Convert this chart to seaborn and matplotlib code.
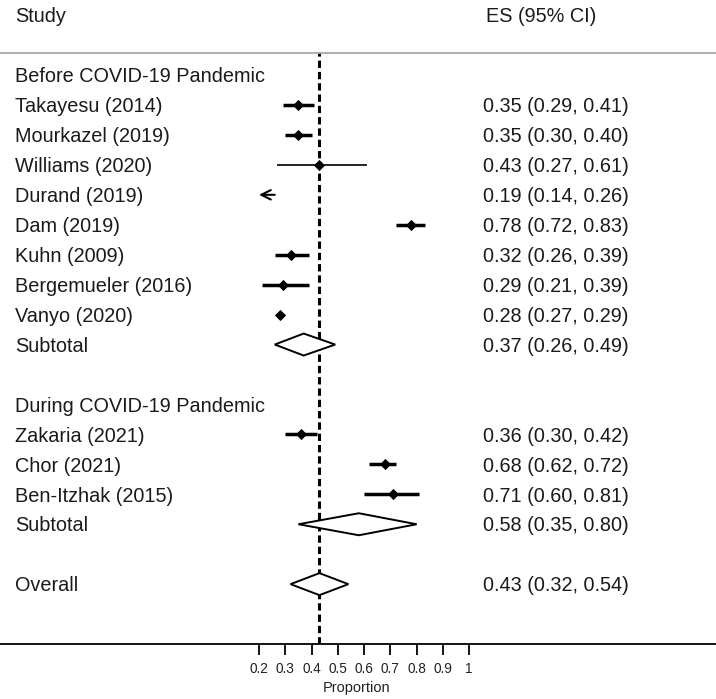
import numpy as np
import pandas as pd
import matplotlib
matplotlib.use("Agg")
import matplotlib.pyplot as plt
import matplotlib.transforms as mtransforms
import seaborn as sns

# ---------------- data ----------------
labels = ["Before COVID-19 Pandemic", "Takayesu (2014)", "Mourkazel (2019)", "Williams (2020)",
          "Durand (2019)", "Dam (2019)", "Kuhn (2009)", "Bergemueler (2016)", "Vanyo (2020)",
          "Subtotal", "", "During COVID-19 Pandemic", "Zakaria (2021)", "Chor (2021)",
          "Ben-Itzhak (2015)", "Subtotal", "", "Overall"]
kinds = ["group", "study", "study", "study", "study", "study", "study", "study", "study",
         "pooled", "blank", "group", "study", "study", "study", "pooled", "blank", "pooled"]
es = [np.nan, 0.35, 0.35, 0.43, 0.19, 0.78, 0.32, 0.29, 0.28, 0.37, np.nan, np.nan,
      0.36, 0.68, 0.71, 0.58, np.nan, 0.43]
lo = [np.nan, 0.29, 0.30, 0.27, 0.14, 0.72, 0.26, 0.21, 0.27, 0.26, np.nan, np.nan,
      0.30, 0.62, 0.60, 0.35, np.nan, 0.32]
hi = [np.nan, 0.41, 0.40, 0.61, 0.26, 0.83, 0.39, 0.39, 0.29, 0.49, np.nan, np.nan,
      0.42, 0.72, 0.81, 0.80, np.nan, 0.54]
xticks = [0.2, 0.3, 0.4, 0.5, 0.6, 0.7, 0.8, 0.9, 1.0]
xticklabels = ["0.2", "0.3", "0.4", "0.5", "0.6", "0.7", "0.8", "0.9", "1"]

df = pd.DataFrame({"label": labels, "kind": kinds, "es": es, "lo": lo, "hi": hi})
df["row"] = np.arange(len(df))

# ---------------- style ----------------
sns.set_theme(style="white")
plt.rcParams["font.family"] = ["Liberation Sans", "DejaVu Sans"]

W, H = 716, 699
fig = plt.figure(figsize=(W / 100, H / 100), dpi=100)
ax = fig.add_axes([0, 55 / H, 1, (644 - 53) / H])

XMIN = 0.2
px_per_unit = 262.8
x0_px = 259.0
ax.set_xlim(XMIN - x0_px / px_per_unit, XMIN + (W - x0_px) / px_per_unit)
row0_px, row_h = 75.0, 29.95
ax.set_ylim((644 - row0_px) / row_h, (53 - row0_px) / row_h)

# spines
for s in ["left", "right"]:
    ax.spines[s].set_visible(False)
ax.spines["top"].set_color("#a0a0a0")
ax.spines["top"].set_linewidth(1.2)
ax.spines["bottom"].set_color("black")
ax.spines["bottom"].set_linewidth(1.3)

ax.set_xticks(xticks)
ax.set_xticklabels(xticklabels)
ax.set_yticks([])
ax.tick_params(axis="x", bottom=True, length=8, width=1.3, color="black",
               pad=5, labelsize=9.8, labelcolor="#222222")

# overall reference line
overall_es = df.loc[df["label"] == "Overall", "es"].iloc[0]
ax.axvline(overall_es, color="black", lw=2.2, dashes=(2.4, 1.3), zorder=1)

# study CIs
studies = df[df["kind"] == "study"]
thin = {"Williams (2020)"}
for _, r in studies.iterrows():
    lw = 1.2 if r["label"] in thin else 2.5
    if r["lo"] < XMIN:
        ax.annotate("", xy=(XMIN, r["row"]), xytext=(r["hi"], r["row"]),
                    arrowprops=dict(arrowstyle="->", lw=1.5, color="black",
                                    mutation_scale=17, shrinkA=0, shrinkB=0))
    else:
        ax.hlines(r["row"], r["lo"], r["hi"], color="black", lw=lw, zorder=2)

pts = studies[studies["es"] >= XMIN]
sns.scatterplot(data=pts, x="es", y="row", marker="D", s=26, color="black",
                edgecolor="black", linewidth=0.6, ax=ax, zorder=3, legend=False)

# pooled diamonds
hh = 11 / row_h
for _, r in df[df["kind"] == "pooled"].iterrows():
    y = r["row"]
    ax.fill([r["lo"], r["es"], r["hi"], r["es"], r["lo"]],
            [y, y - hh, y, y + hh, y], facecolor="white", edgecolor="black",
            lw=1.4, zorder=4)

ax.set_xlabel("Proportion", fontsize=10.5, color="#222222")
ax.xaxis.set_label_coords(0.4986, -0.062)
ax.set_ylabel("")

# text columns
base_off = 7.2 / row_h
trans_l = mtransforms.blended_transform_factory(fig.transFigure, ax.transData)
FS = 14.3
for _, r in df.iterrows():
    if r["label"]:
        ax.text(15 / W, r["row"] + base_off, r["label"], transform=trans_l,
                ha="left", va="baseline", fontsize=FS, color="#1a1a1a")
    if not np.isnan(r["es"]):
        txt = f"{r['es']:.2f} ({r['lo']:.2f}, {r['hi']:.2f})"
        ax.text(483 / W, r["row"] + base_off, txt, transform=trans_l,
                ha="left", va="baseline", fontsize=FS, color="#1a1a1a")

fig.text(15 / W, 1 - 22 / H, "Study", ha="left", va="baseline", fontsize=FS, color="#1a1a1a")
fig.text(486 / W, 1 - 22 / H, "ES (95% CI)", ha="left", va="baseline", fontsize=FS, color="#1a1a1a")

fig.savefig("out.png", dpi=100, facecolor="white")
